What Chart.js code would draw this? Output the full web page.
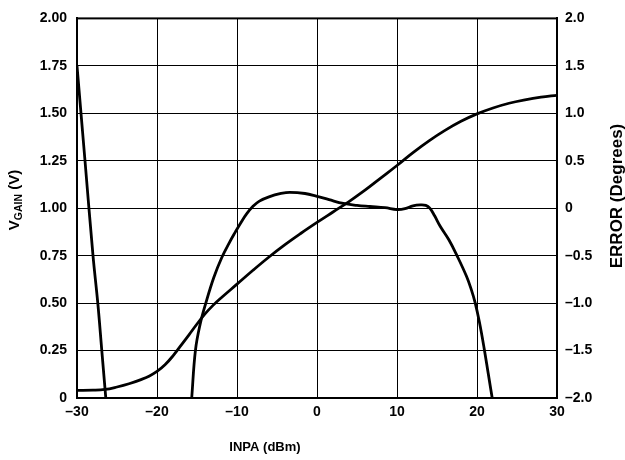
<!DOCTYPE html>
<html>
<head>
<meta charset="utf-8">
<script src="https://cdn.jsdelivr.net/npm/chart.js@4"></script>
<style>
  html, body { margin: 0; padding: 0; background: #fff; }
  #wrap { width: 625px; height: 460px; }
</style>
</head>
<body>
<div id="wrap"><canvas id="chart"></canvas></div>
<script>
// tick labels
const xTickLabels = ['–30', '–20', '–10', '0', '10', '20', '30'];
const leftTickLabels = ['0', '0.25', '0.50', '0.75', '1.00', '1.25', '1.50', '1.75', '2.00'];
const rightTickLabels = ['–2.0', '–1.5', '–1.0', '–0.5', '0', '0.5', '1.0', '1.5', '2.0'];

// VGAIN (V) vs INPA (dBm)
const vgainX = [-30, -28, -26.5, -25, -23.5, -22, -21, -20, -19, -18, -17, -16, -15, -14, -13, -12, -10, -8, -6, -4, -2, 0, 2, 4, 6, 8, 10, 12, 14, 16, 18, 20, 22, 24, 26, 28, 30];
const vgainY = [0.04, 0.041, 0.045, 0.058, 0.075, 0.097, 0.115, 0.14, 0.175, 0.222, 0.277, 0.333, 0.39, 0.443, 0.488, 0.527, 0.6, 0.673, 0.743, 0.808, 0.868, 0.925, 0.98, 1.035, 1.095, 1.16, 1.225, 1.293, 1.355, 1.41, 1.458, 1.497, 1.528, 1.553, 1.571, 1.585, 1.595];

// ERROR (Degrees), two visible pieces
const errLeftX = [-30, -29, -28, -27.4, -26.9, -26.4];
const errLeftY = [1.5, 0.5, -0.5, -1.0, -1.5, -2.0];
const errRightX = [-15.66, -15.2, -14.6, -13.9, -12.9, -11.9, -11, -10.2, -9.5, -8.8, -8, -7.2, -6, -4.5, -3.4, -1.5, 0, 1.5, 3.3, 5, 6.6, 8.5, 10, 11, 12, 12.9, 13.6, 14.1, 14.7, 15.4, 16.5, 17.5, 18.7, 19.3, 19.75, 20.3, 20.9, 21.4, 21.9];
const errRightY = [-2.0, -1.5, -1.22, -1.0, -0.73, -0.52, -0.37, -0.25, -0.15, -0.06, 0.02, 0.075, 0.12, 0.155, 0.167, 0.155, 0.125, 0.09, 0.05, 0.03, 0.018, 0.005, -0.014, -0.005, 0.025, 0.035, 0.03, 0.0, -0.08, -0.19, -0.335, -0.5, -0.72, -0.86, -0.99, -1.2, -1.48, -1.74, -2.0];

const toPts = (xs, ys) => xs.map((x, i) => ({ x: x, y: ys[i] }));

const FONT = 'Liberation Sans, Arial, sans-serif';

const line = (data, axis) => ({
    data: data,
    yAxisID: axis,
    borderColor: '#000',
    borderWidth: 2.8,
    pointRadius: 0,
    fill: false,
    tension: 0.4
});

const titles = {
    id: 'titles',
    afterDraw(chart) {
        const ctx = chart.ctx;
        const area = chart.chartArea;
        ctx.save();
        ctx.strokeStyle = '#000';
        ctx.lineWidth = 2;
        ctx.strokeRect(area.left, area.top, area.right - area.left, area.bottom - area.top);

        ctx.fillStyle = '#000';
        ctx.textBaseline = 'middle';

        // x title
        ctx.font = 'bold 13px ' + FONT;
        ctx.textAlign = 'center';
        ctx.fillText('INPA (dBm)', 265, 447);

        // left title with subscript
        const big = 'bold 15px ' + FONT, small = 'bold 10.5px ' + FONT;
        ctx.font = big; const w1 = ctx.measureText('V').width; const w3 = ctx.measureText(' (V)').width;
        ctx.font = small; const w2 = ctx.measureText('GAIN').width;
        const total = w1 + w2 + w3;
        ctx.save();
        ctx.translate(15, 200);
        ctx.rotate(-Math.PI / 2);
        ctx.textAlign = 'left';
        let px = -total / 2;
        ctx.font = big; ctx.fillText('V', px, 0); px += w1;
        ctx.font = small; ctx.fillText('GAIN', px, 4); px += w2;
        ctx.font = big; ctx.fillText(' (V)', px, 0);
        ctx.restore();

        // right title
        ctx.save();
        ctx.translate(617, 196);
        ctx.rotate(-Math.PI / 2);
        ctx.textAlign = 'center';
        ctx.font = 'bold 17px ' + FONT;
        ctx.fillText('ERROR (Degrees)', 0, 0);
        ctx.restore();
        ctx.restore();
    }
};

new Chart(document.getElementById('chart').getContext('2d'), {
    type: 'line',
    data: {
        datasets: [
            line(toPts(vgainX, vgainY), 'y'),
            line(toPts(errLeftX, errLeftY), 'y2'),
            line(toPts(errRightX, errRightY), 'y2')
        ]
    },
    options: {
        responsive: true,
        maintainAspectRatio: false,
        animation: false,
        layout: { padding: { top: 11, left: 0, right: 0, bottom: 0 } },
        plugins: { legend: { display: false }, tooltip: { enabled: false } },
        scales: {
            x: {
                type: 'linear', min: -30, max: 30,
                ticks: {
                    stepSize: 10, color: '#000', padding: 6,
                    font: { family: FONT, size: 14, weight: 'bold' },
                    callback: (v, i) => xTickLabels[i]
                },
                grid: { color: '#000', lineWidth: 1, drawTicks: false },
                border: { color: '#000', width: 2 },
                afterFit: (s) => { s.height = 62; }
            },
            y: {
                position: 'left', min: 0, max: 2,
                ticks: {
                    stepSize: 0.25, color: '#000', padding: 10,
                    font: { family: FONT, size: 14, weight: 'bold' },
                    callback: (v, i) => leftTickLabels[i]
                },
                grid: { color: '#000', lineWidth: 1, drawTicks: false },
                border: { color: '#000', width: 2 },
                afterFit: (s) => { s.width = 77; }
            },
            y2: {
                position: 'right', min: -2, max: 2,
                ticks: {
                    stepSize: 0.5, color: '#000', padding: 8,
                    font: { family: FONT, size: 14, weight: 'bold' },
                    callback: (v, i) => rightTickLabels[i]
                },
                grid: { drawOnChartArea: false, drawTicks: false },
                border: { color: '#000', width: 2 },
                afterFit: (s) => { s.width = 68; }
            }
        }
    },
    plugins: [titles]
});
</script>
</body>
</html>
